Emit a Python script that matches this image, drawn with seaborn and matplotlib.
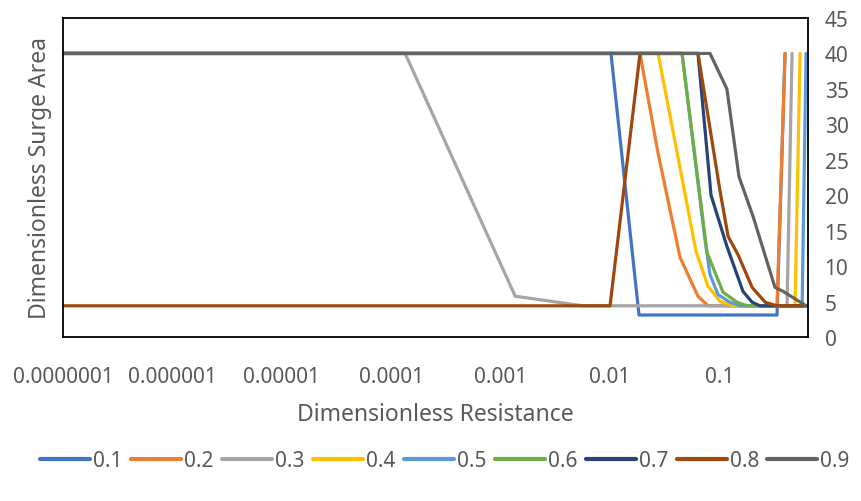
import matplotlib
matplotlib.use("Agg")
import matplotlib.pyplot as plt
import pandas as pd
import seaborn as sns

# =====================
# Data
# =====================
series_names = ["0.1", "0.2", "0.3", "0.4", "0.5", "0.6", "0.7", "0.8", "0.9"]
colors = ["#4472C4", "#ED7D31", "#A5A5A5", "#FFC000", "#5B9BD5",
          "#70AD47", "#264478", "#9E480E", "#636363"]

x_01 = [1e-7, 0.0102, 0.0184, 0.336, 0.398]
y_01 = [40, 40, 3.1, 3.1, 40]

x_02 = [1e-7, 0.0188, 0.0275, 0.0437, 0.0637, 0.0787, 0.336, 0.398]
y_02 = [40, 40, 25.9, 11.2, 5.75, 4.4, 4.4, 40]

x_03 = [1e-7, 1.34e-4, 1.36e-3, 5.66e-3, 0.415, 0.461]
y_03 = [40, 40, 5.75, 4.4, 4.4, 40]

x_04 = [1e-7, 0.0275, 0.0611, 0.0787, 0.101, 0.133, 0.491, 0.546]
y_04 = [40, 40, 12.1, 7.15, 5.05, 4.4, 4.4, 40]

x_05 = [1e-7, 0.0455, 0.0738, 0.082, 0.097, 0.125, 0.154, 0.57, 0.619]
y_05 = [40, 40, 13.7, 8.8, 6.0, 4.9, 4.4, 4.4, 40]

x_06 = [1e-7, 0.0455, 0.0771, 0.108, 0.145, 0.179, 0.62]
y_06 = [40, 40, 11.9, 6.3, 4.9, 4.4, 4.4]

x_07 = [1e-7, 0.0637, 0.0838, 0.117, 0.164, 0.199, 0.235, 0.62]
y_07 = [40, 40, 20.0, 12.8, 6.45, 4.9, 4.4, 4.4]

x_08 = [1e-7, 0.01, 0.0188, 0.0637, 0.101, 0.12, 0.148, 0.199, 0.262, 0.336, 0.62]
y_08 = [4.4, 4.4, 40, 40, 20.7, 14.2, 11.6, 7.0, 4.9, 4.4, 4.4]

x_09 = [1e-7, 0.082, 0.117, 0.151, 0.203, 0.322, 0.381, 0.619]
y_09 = [40, 40, 35.0, 22.6, 17.0, 7.0, 6.45, 4.4]

x_ticks = [1e-7, 1e-6, 1e-5, 1e-4, 1e-3, 1e-2, 1e-1]
x_tick_labels = ["0.0000001", "0.000001", "0.00001", "0.0001", "0.001", "0.01", "0.1"]
y_ticks = [0, 5, 10, 15, 20, 25, 30, 35, 40, 45]

# =====================
# Long-format table for seaborn
# =====================
xs = [x_01, x_02, x_03, x_04, x_05, x_06, x_07, x_08, x_09]
ys = [y_01, y_02, y_03, y_04, y_05, y_06, y_07, y_08, y_09]
frames = []
for name, xv, yv in zip(series_names, xs, ys):
    frames.append(pd.DataFrame({"Resistance": xv, "Area": yv, "Series": name}))
df = pd.concat(frames, ignore_index=True)

# =====================
# Plot
# =====================
sns.set_theme(style="white")
plt.rcParams["font.family"] = ["Noto Sans", "DejaVu Sans"]
text_color = "#595959"

fig = plt.figure(figsize=(8.61, 5.02), dpi=100)
ax = fig.add_axes([63 / 861, 1 - 338 / 502, (808 - 63) / 861, (338 - 19) / 502])

sns.lineplot(data=df, x="Resistance", y="Area", hue="Series", units="Series",
             estimator=None, sort=False, palette=colors, linewidth=2.3,
             hue_order=series_names, ax=ax)

ax.set_xscale("log")
ax.set_xlim(1e-7, 0.645)
ax.set_ylim(0, 45)
ax.set_xticks(x_ticks)
ax.set_xticklabels(x_tick_labels)
ax.minorticks_off()
ax.set_yticks(y_ticks)
ax.yaxis.tick_right()
ax.yaxis.set_label_position("left")
ax.tick_params(axis="x", length=0, pad=21, labelsize=15, colors=text_color)
ax.tick_params(axis="y", length=0, pad=12, labelsize=15, colors=text_color)

ax.set_xlabel("Dimensionless Resistance", fontsize=16.5, color=text_color, labelpad=11)
ax.set_ylabel("Dimensionless Surge Area", fontsize=16.5, color=text_color, labelpad=8)

for side in ["top", "bottom", "left", "right"]:
    ax.spines[side].set_visible(True)
    ax.spines[side].set_color("black")
    ax.spines[side].set_linewidth(1.3)

handles, labels = ax.get_legend_handles_labels()
ax.legend_.remove()
leg = fig.legend(handles, labels, ncol=9, loc="center", bbox_to_anchor=(445 / 861, 1 - 462 / 502),
                 frameon=False, fontsize=15, handlelength=2.4, handletextpad=0.15,
                 columnspacing=0.4)
for line in leg.get_lines():
    line.set_linewidth(3)
for t in leg.get_texts():
    t.set_color(text_color)

fig.savefig("out.png", dpi=100)
